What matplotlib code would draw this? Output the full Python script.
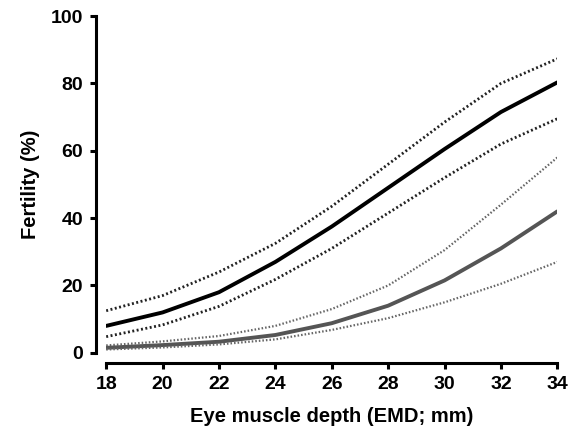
"""Fertility vs eye muscle depth, fitted curves with confidence bands."""

import matplotlib

matplotlib.use("Agg")
import matplotlib.pyplot as plt

emd = [18, 20, 22, 24, 26, 28, 30, 32, 34]

# upper group (black)
fert_a = [8, 12, 18, 27, 37.5, 49, 60.5, 71.5, 80.3]
fert_a_upper = [12.5, 17, 24, 32.5, 43.5, 56, 68.5, 80, 87.3]
fert_a_lower = [4.8, 8.3, 13.8, 21.8, 31, 41.5, 52, 62, 69.5]

# lower group (grey)
fert_b = [1.5, 2.3, 3.3, 5.3, 8.8, 14, 21.5, 31, 42]
fert_b_upper = [2.2, 3.4, 5, 8, 13, 20, 30.5, 44, 58]
fert_b_lower = [1, 1.6, 2.5, 4, 6.8, 10.3, 15, 20.5, 27]

plt.rcParams["font.family"] = ["Liberation Sans", "DejaVu Sans"]
plt.rcParams["font.weight"] = "bold"

fig = plt.figure(figsize=(5.71, 4.34), dpi=100)
ax = fig.add_axes([0.186, 0.187, 0.79, 0.776])

dots = (0, (0.7, 0.9))
ax.plot(emd, fert_a_upper, color="#222222", lw=2.0, ls=dots)
ax.plot(emd, fert_a, color="black", lw=2.8, solid_capstyle="round")
ax.plot(emd, fert_a_lower, color="#222222", lw=2.0, ls=dots)

ax.plot(emd, fert_b_upper, color="#666666", lw=1.6, ls=dots)
ax.plot(emd, fert_b, color="#555555", lw=2.8, solid_capstyle="round")
ax.plot(emd, fert_b_lower, color="#666666", lw=1.6, ls=dots)

ax.set_xlim(18, 34)
ax.set_ylim(0, 100)
ax.set_xticks(range(18, 35, 2))
ax.set_yticks(range(0, 101, 20))

for side in ("top", "right"):
    ax.spines[side].set_visible(False)
ax.spines["left"].set_position(("outward", 7))
ax.spines["bottom"].set_position(("outward", 7))
for side in ("left", "bottom"):
    ax.spines[side].set_linewidth(2.2)
ax.tick_params(width=2.2, length=4.5, labelsize=14)
ax.tick_params(axis="y", pad=5)
ax.tick_params(axis="x", pad=5)
for lab in ax.get_xticklabels() + ax.get_yticklabels():
    lab.set_fontweight("bold")

ax.set_xlabel("Eye muscle depth (EMD; mm)", fontsize=14.5, fontweight="bold", labelpad=10)
ax.set_ylabel("Fertility (%)", fontsize=14.5, fontweight="bold", labelpad=8)

fig.savefig("out.png", dpi=100)
